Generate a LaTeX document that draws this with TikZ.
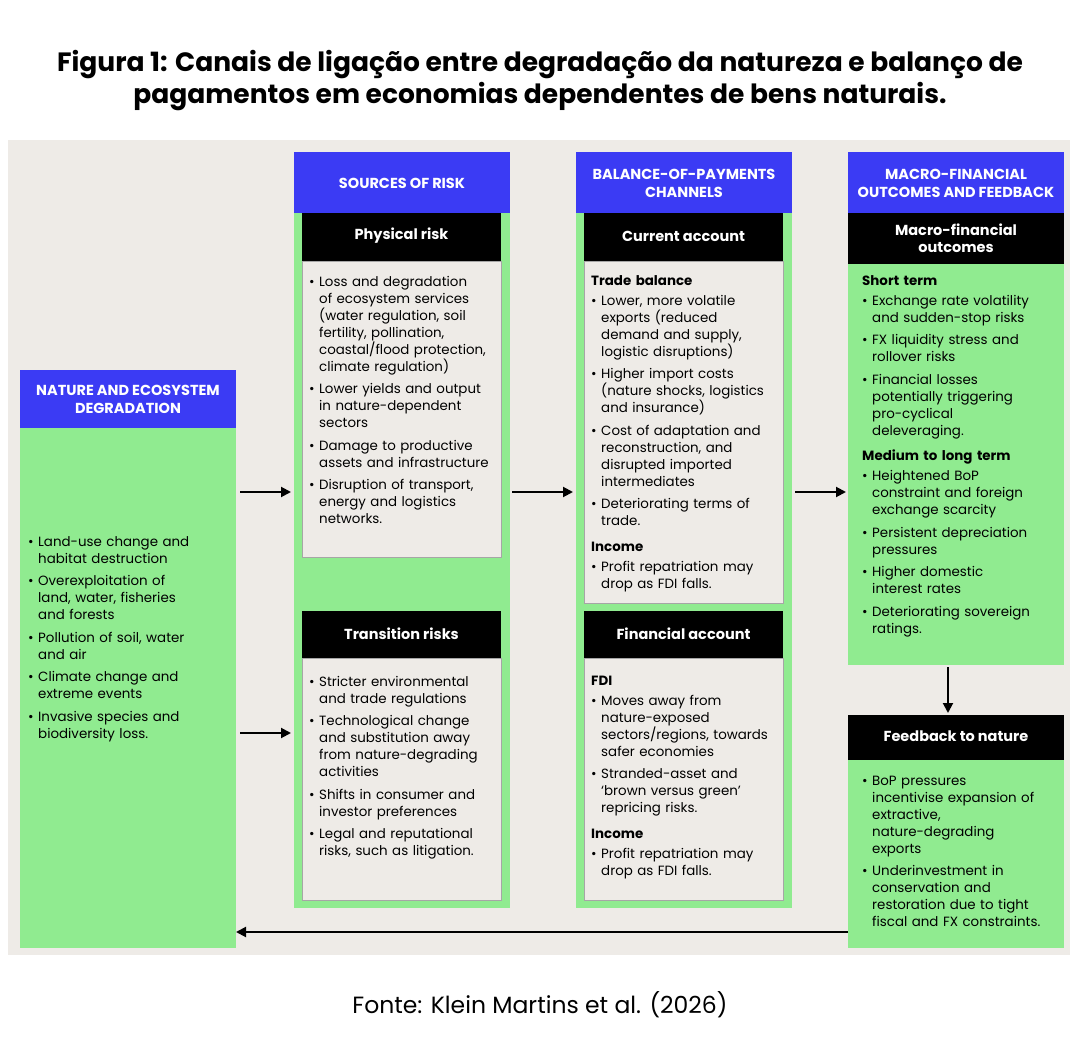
\documentclass[tikz,border=0pt]{standalone}
\usepackage{fontspec}
\setmainfont{Poppins}
\usetikzlibrary{arrows.meta}
\definecolor{bgc}{HTML}{EEEBE7}
\definecolor{grn}{HTML}{90EB90}
\definecolor{blu}{HTML}{3B3BF4}
\definecolor{inbox}{HTML}{EEEBE7}
\newcommand{\bl}[1]{\par\hangindent=10pt\hangafter=1\noindent\makebox[10pt][l]{\textbullet}#1\par\vspace{5.5pt}}
\newcommand{\hd}[1]{\par\vspace{3pt}\noindent\textbf{#1}\par\vspace{3pt}}
\newcommand{\hdf}[1]{\par\noindent\textbf{#1}\par\vspace{3pt}}
\begin{document}
\begin{tikzpicture}[x=1pt,y=-1pt,
  bluehd/.style={fill=blu,draw=none,text=white,font=\fontsize{14.5}{18}\selectfont\bfseries,align=center},
  blackhd/.style={fill=black,text=white,font=\fontsize{14.5}{17}\selectfont\bfseries,align=center},
  body/.style={anchor=north west,inner sep=0pt,align=left,font=\fontsize{13.4}{17}\selectfont},
  arr/.style={-{Triangle[length=10pt,width=10pt]},line width=2pt}]
\useasboundingbox (0,0) rectangle (1080,1056);
\fill[white] (0,0) rectangle (1080,1056);
\node[font=\fontsize{26.5}{32}\selectfont\bfseries,align=center] (title) at (540,81) {Figura 1: Canais de ligação entre degradação da natureza e balanço de\\pagamentos em economias dependentes de bens naturais.};
\fill[bgc] (8,140) rectangle (1070,955);
% column 1
\fill[grn] (20,370) rectangle (236,948);
\fill[blu] (20,370) rectangle (236,428);
\node[bluehd] (h1) at (128,399) {NATURE AND ECOSYSTEM\\DEGRADATION};
\node[body,text width=205pt] (t1) at (28,529) {%
\bl{Land-use change and\newline habitat destruction}
\bl{Overexploitation of\newline land, water, fisheries\newline and forests}
\bl{Pollution of soil, water\newline and air}
\bl{Climate change and\newline extreme events}
\bl{Invasive species and\newline biodiversity loss.}};
% column 2
\fill[grn] (294,152) rectangle (510,908);
\fill[blu] (294,152) rectangle (510,213);
\node[bluehd] (h2) at (402,183) {SOURCES OF RISK};
\fill[black] (302,213) rectangle (501,261);
\node[blackhd] (pr) at (401.5,236) {Physical risk};
\filldraw[fill=inbox,draw=gray!70] (302,261) rectangle (501,557);
\node[body,text width=195pt] (t2) at (309,269) {%
\bl{Loss and degradation\newline of ecosystem services\newline (water regulation, soil\newline fertility, pollination,\newline coastal/flood protection,\newline climate regulation)}
\bl{Lower yields and output\newline in nature-dependent\newline sectors}
\bl{Damage to productive\newline assets and infrastructure}
\bl{Disruption of transport,\newline energy and logistics\newline networks.}};
\fill[black] (302,611) rectangle (501,658);
\node[blackhd] (tr) at (401.5,634) {Transition risks};
\filldraw[fill=inbox,draw=gray!70] (302,658) rectangle (501,900);
\node[body,text width=195pt] (t3) at (309,669) {%
\bl{Stricter environmental\newline and trade regulations}
\bl{Technological change\newline and substitution away\newline from nature-degrading\newline activities}
\bl{Shifts in consumer and\newline investor preferences}
\bl{Legal and reputational\newline risks, such as litigation.}};
% column 3
\fill[grn] (576,152) rectangle (792,908);
\fill[blu] (576,152) rectangle (792,213);
\node[bluehd] (h3) at (684,183) {BALANCE-OF-PAYMENTS\\CHANNELS};
\fill[black] (584,213) rectangle (783,261);
\node[blackhd] (ca) at (683.5,236) {Current account};
\filldraw[fill=inbox,draw=gray!70] (584,261) rectangle (783,603);
\node[body,text width=195pt] (t4) at (591,268) {%
\hdf{Trade balance}
\bl{Lower, more volatile\newline exports (reduced\newline demand and supply,\newline logistic disruptions)}
\bl{Higher import costs\newline (nature shocks, logistics\newline and insurance)}
\bl{Cost of adaptation and\newline reconstruction, and\newline disrupted imported\newline intermediates}
\bl{Deteriorating terms of\newline trade.}
\hd{Income}
\bl{Profit repatriation may\newline drop as FDI falls.}};
\fill[black] (584,611) rectangle (783,658);
\node[blackhd] (fa) at (683.5,634) {Financial account};
\filldraw[fill=inbox,draw=gray!70] (584,658) rectangle (783,900);
\node[body,text width=195pt] (t5) at (591,668) {%
\hdf{FDI}
\bl{Moves away from\newline nature-exposed\newline sectors/regions, towards\newline safer economies}
\bl{Stranded-asset and\newline ‘brown versus green’\newline repricing risks.}
\hd{Income}
\bl{Profit repatriation may\newline drop as FDI falls.}};
% column 4
\fill[grn] (848,152) rectangle (1064,665);
\fill[blu] (848,152) rectangle (1064,213);
\node[bluehd] (h4) at (956,183) {MACRO-FINANCIAL\\OUTCOMES AND FEEDBACK};
\fill[black] (848,213) rectangle (1064,264);
\node[blackhd] (mo) at (956,238) {Macro-financial\\outcomes};
\node[body,text width=205pt] (t6) at (862,268) {%
\hdf{Short term}
\bl{Exchange rate volatility\newline and sudden-stop risks}
\bl{FX liquidity stress and\newline rollover risks}
\bl{Financial losses\newline potentially triggering\newline pro-cyclical\newline deleveraging.}
\hd{Medium to long term}
\bl{Heightened BoP\newline constraint and foreign\newline exchange scarcity}
\bl{Persistent depreciation\newline pressures}
\bl{Higher domestic\newline interest rates}
\bl{Deteriorating sovereign\newline ratings.}};
\fill[grn] (848,715) rectangle (1064,948);
\fill[black] (848,715) rectangle (1064,760);
\node[blackhd] (fb) at (956,736) {Feedback to nature};
\node[body,text width=205pt] (t7) at (862,768) {%
\bl{BoP pressures\newline incentivise expansion of\newline extractive,\newline nature-degrading\newline exports}
\bl{Underinvestment in\newline conservation and\newline restoration due to tight\newline fiscal and FX constraints.}};
% arrows
\coordinate (a1s) at (240,492); \coordinate (a1e) at (291,492);
\coordinate (a2s) at (240,733); \coordinate (a2e) at (291,733);
\coordinate (a3s) at (512,492); \coordinate (a3e) at (573,492);
\coordinate (a4s) at (795,492); \coordinate (a4e) at (846,492);
\coordinate (a5s) at (948,667); \coordinate (a5e) at (948,713);
\coordinate (a6s) at (848,932); \coordinate (a6e) at (236,932);
\draw[arr] (a1s) -- (a1e);
\draw[arr] (a2s) -- (a2e);
\draw[arr] (a3s) -- (a3e);
\draw[arr] (a4s) -- (a4e);
\draw[arr] (a5s) -- (a5e);
\draw[arr] (a6s) -- (a6e);
\node[font=\fontsize{23.5}{28}\selectfont] (src) at (540,1005) {Fonte: Klein Martins et al. (2026)};
\end{tikzpicture}
\end{document}
